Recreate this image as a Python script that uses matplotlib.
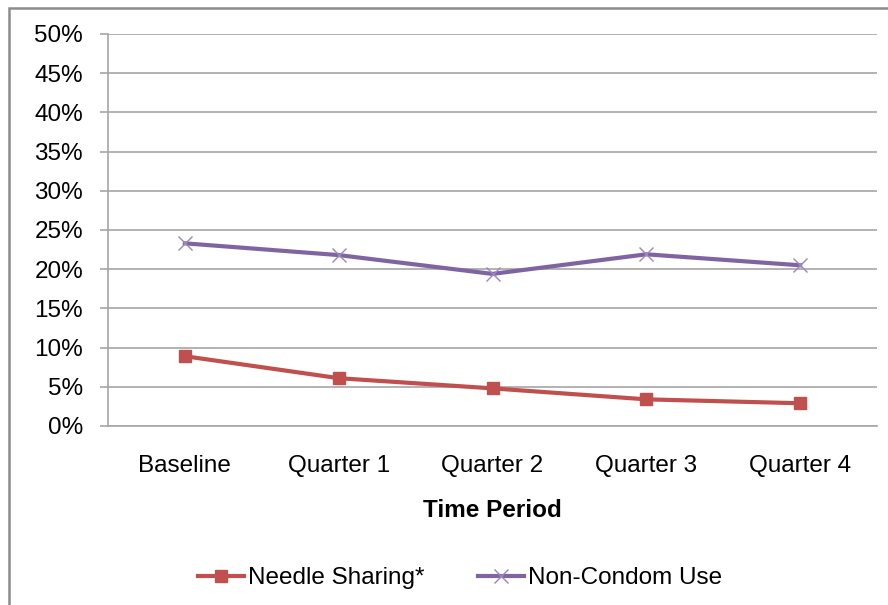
import matplotlib
matplotlib.use("Agg")
import matplotlib.pyplot as plt
import matplotlib.ticker as ticker
from matplotlib.patches import Rectangle

plt.rcParams['font.family'] = ['Liberation Sans', 'DejaVu Sans']

periods = ["Baseline", "Quarter 1", "Quarter 2", "Quarter 3", "Quarter 4"]
needle_sharing = [8.9, 6.1, 4.8, 3.4, 2.9]
non_condom_use = [23.3, 21.8, 19.4, 21.9, 20.5]
y_ticks = [0, 5, 10, 15, 20, 25, 30, 35, 40, 45, 50]

grid_color = "#a6a6a6"
red = "#c0504d"
purple = "#8064a2"
fs = 17.5

fig = plt.figure(figsize=(8.88, 6.05), dpi=100)
ax = fig.add_axes([108 / 888, 1 - 426 / 605, (877 - 108) / 888, (426 - 34) / 605])

x = range(len(periods))
ax.plot(x, needle_sharing, color=red, lw=3, marker="s", markersize=8.5,
        markerfacecolor=red, markeredgecolor=red, label="Needle Sharing*")
ax.plot(x, non_condom_use, color=purple, lw=3, marker="x", markersize=10,
        markeredgecolor="#9a86c0", markeredgewidth=1, label="Non-Condom Use")

ax.set_xlim(-0.5, len(periods) - 0.5)
ax.set_ylim(0, 50)
ax.set_yticks(y_ticks)
ax.yaxis.set_major_formatter(ticker.FuncFormatter(lambda v, _: f"{v:.0f}%"))
ax.set_xticks(list(x))
ax.set_xticklabels(periods)

ax.grid(axis="y", color=grid_color, lw=1.2)
ax.set_axisbelow(True)
for side in ["top", "right"]:
    ax.spines[side].set_visible(False)
ax.spines["left"].set_color(grid_color)
ax.spines["bottom"].set_color(grid_color)
ax.spines["left"].set_linewidth(1.2)
ax.spines["bottom"].set_linewidth(1.2)

ax.tick_params(axis="y", length=6, width=1.2, color=grid_color, pad=12,
               labelsize=fs, labelcolor="black")
ax.tick_params(axis="x", length=0, pad=21, labelsize=fs, labelcolor="black")
ax.set_xlabel("Time Period", fontsize=fs, fontweight="bold", labelpad=16)

fig.legend(loc="center", bbox_to_anchor=(460 / 888, 1 - 578 / 605), ncol=2,
           frameon=False, fontsize=fs, handlelength=1.9, handletextpad=0.15,
           columnspacing=2.2)

# chart area border
fig.patches.append(Rectangle((9 / 888, -0.05), 1.0, 1 - 8 / 605 + 0.05,
                             transform=fig.transFigure, fill=False,
                             edgecolor="#8c8c8c", lw=1.8))

fig.savefig("out.png", dpi=100)
